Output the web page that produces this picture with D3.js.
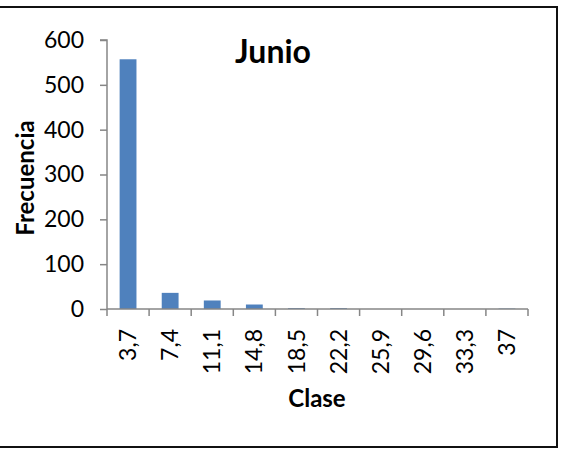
<!DOCTYPE html>
<html>
<head>
<meta charset="utf-8">
<script src="https://cdn.jsdelivr.net/npm/d3@7"></script>
<style>
  html, body { margin: 0; padding: 0; background: #fff; }
  svg { display: block; }
  text { font-family: Lato, "Open Sans", sans-serif; fill: #000; }
</style>
</head>
<body>
<div id="chart"></div>
<script>
// Frequency histogram for June
const classes = ["3,7", "7,4", "11,1", "14,8", "18,5", "22,2", "25,9", "29,6", "33,3", "37"];
const frequencies = [557, 36, 19, 10, 2, 2, 0, 0, 0, 1];
const yTicks = [0, 100, 200, 300, 400, 500, 600];

const W = 571, H = 449;
const plot = { left: 107, right: 528, top: 40, bottom: 309 };
const labelSize = 23;

const svg = d3.select("#chart").append("svg")
  .attr("width", W).attr("height", H);

// Chart frame (top, right, bottom edges)
svg.append("path")
  .attr("d", `M0,7H557V447H0`)
  .attr("fill", "none")
  .attr("stroke", "#111")
  .attr("stroke-width", 2);

const x = d3.scaleBand()
  .domain(classes)
  .range([plot.left, plot.right])
  .paddingInner(0.6)
  .paddingOuter(0.3);

const y = d3.scaleLinear()
  .domain([0, 600])
  .range([plot.bottom, plot.top]);

const axisColor = "#868686";

// Y axis
const yAxis = svg.append("g")
  .attr("transform", `translate(${plot.left},0)`)
  .call(d3.axisLeft(y).tickValues(yTicks).tickSize(7).tickPadding(16).tickFormat(d3.format("d")));
yAxis.select(".domain").attr("stroke", axisColor).attr("stroke-width", 1.5)
  .attr("d", `M-7,${y(600)}H0V${y(0)}`);
yAxis.selectAll(".tick line").attr("stroke", axisColor).attr("stroke-width", 1.5);
yAxis.selectAll(".tick text").attr("font-size", labelSize).attr("font-family", "Lato, sans-serif").attr("fill", "#000");

// Bars
svg.append("g").selectAll("rect")
  .data(classes.map((c, i) => ({ c, v: frequencies[i] })))
  .join("rect")
  .attr("x", d => x(d.c))
  .attr("width", x.bandwidth())
  .attr("y", d => y(d.v))
  .attr("height", d => y(0) - y(d.v))
  .attr("fill", "#4F81BD");

// X axis: baseline with ticks between categories
const gap = (x.step() - x.bandwidth()) / 2;
const bounds = classes.map(c => x(c) - gap).concat([x(classes[classes.length - 1]) + x.bandwidth() + gap]);
const xAxis = svg.append("g");
xAxis.append("line")
  .attr("x1", plot.left).attr("x2", bounds[bounds.length - 1])
  .attr("y1", y(0)).attr("y2", y(0))
  .attr("stroke", axisColor).attr("stroke-width", 1.5);
xAxis.selectAll("line.tk")
  .data(bounds)
  .join("line")
  .attr("class", "tk")
  .attr("x1", d => d).attr("x2", d => d)
  .attr("y1", y(0)).attr("y2", y(0) + 7)
  .attr("stroke", axisColor).attr("stroke-width", 1.5);
xAxis.selectAll("text")
  .data(classes)
  .join("text")
  .attr("transform", d => `translate(${x(d) + x.bandwidth() / 2},${y(0) + 20}) rotate(-90)`)
  .attr("text-anchor", "end")
  .attr("dy", "0.35em")
  .attr("font-size", labelSize)
  .text(d => d);

// Title
svg.append("text")
  .attr("x", 273).attr("y", 63)
  .attr("text-anchor", "middle")
  .attr("font-size", 32)
  .attr("font-weight", "bold")
  .text("Junio");

// Axis titles
svg.append("text")
  .attr("x", 317).attr("y", 407)
  .attr("text-anchor", "middle")
  .attr("font-size", 24)
  .attr("font-weight", "bold")
  .text("Clase");

svg.append("text")
  .attr("transform", `translate(34,178) rotate(-90)`)
  .attr("text-anchor", "middle")
  .attr("font-size", 24)
  .attr("font-weight", "bold")
  .text("Frecuencia");
</script>
</body>
</html>
